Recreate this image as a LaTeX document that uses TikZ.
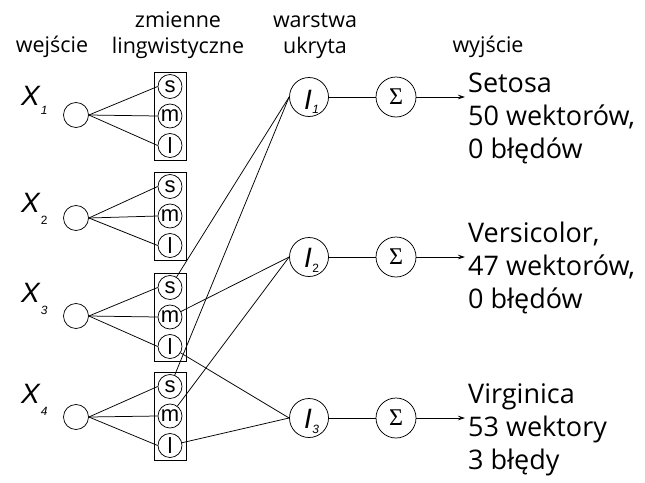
\documentclass[tikz,border=0pt]{standalone}
\usepackage{fontspec}
\setmainfont{Open Sans}
\newfontfamily\arial{Liberation Sans}
\newfontfamily\sigfont{Liberation Serif}
\usetikzlibrary{arrows.meta}
\tikzset{
  wire/.style={line width=0.75pt},
  inp/.style={circle,draw,line width=0.75pt,minimum size=25pt,inner sep=0pt},
  lv/.style={circle,draw,line width=0.75pt,minimum size=24pt,inner sep=0pt,font=\arial\fontsize{22}{22}\selectfont},
  lbox/.style={rectangle,draw,line width=0.75pt,minimum width=31.5pt,minimum height=88pt,inner sep=0pt},
  hid/.style={circle,draw,line width=0.75pt,minimum size=39pt,inner sep=0pt},
  sig/.style={circle,draw,line width=0.75pt,minimum size=40pt,inner sep=0pt,font=\sigfont\fontsize{24}{24}\selectfont},
  varlab/.style={anchor=base west,inner sep=0pt,font=\arial\itshape\fontsize{28}{28}\selectfont},
  head/.style={anchor=north,align=center,inner sep=0pt,font=\fontsize{21.5}{26}\selectfont},
  outtext/.style={anchor=north west,align=left,inner sep=0pt,font=\fontsize{27}{33}\selectfont},
  arr/.style={line width=0.75pt,-{Stealth[length=7pt,width=4.5pt]}}
}
\newcommand{\subsc}[2]{\raisebox{-#1}{\fontsize{12}{12}\selectfont #2}}
\begin{document}
\begin{tikzpicture}[x=1pt,y=-1pt]
\useasboundingbox[fill=white] (0,0) rectangle (645,482);

% headers (strut height = 0.7*26 = 18.2)
\node[head] (h1) at (52,33.8) {\strut wejście};
\node[head] (h2) at (178,8.8) {\strut zmienne\\\strut lingwistyczne};
\node[head] (h3) at (315,8.8) {\strut warstwa\\\strut ukryta};
\node[head] (h4) at (488,33.8) {\strut wyjście};

% input groups
\foreach \i/\c/\xc in {1/116/115,2/216/218,3/317/316,4/416/417}{
  \node[inp] (X\i) at (76,\xc) {};
  \node[lbox] (B\i) at (170.25,\c) {};
  \node[lv] (s\i) at (170,\c-29.5) {s};
  \node[lv] (m\i) at (170,\c) {m};
  \node[lv] (l\i) at (170,\c+29.5) {l};
  \draw[wire] (X\i.east) -- (s\i.west);
  \draw[wire] (X\i.east) -- (m\i.west);
  \draw[wire] (X\i.east) -- (l\i.west);
}

% variable labels
\node[varlab] (XL1) at (21,105) {X\kern1pt\subsc{9pt}{1}};
\node[varlab] (XL2) at (21,212) {X\kern1pt\subsc{12pt}{\upshape 2}};
\node[varlab] (XL3) at (21,302) {X\kern1pt\subsc{12pt}{3}};
\node[varlab] (XL4) at (21,403) {X\kern1pt\subsc{12pt}{4}};

% hidden layer
\node[hid] (I1) at (309,97) {};
\node[hid] (I2) at (309,257) {};
\node[hid] (I3) at (309,418) {};
\node[varlab] (IL1) at (304,109) {I\kern0.5pt\subsc{4pt}{1}};
\node[varlab] (IL2) at (304,267) {I\kern0.5pt\subsc{5pt}{\upshape 2}};
\node[varlab] (IL3) at (304,428) {I\kern0.5pt\subsc{5pt}{3}};

% sums
\node[sig] (S1) at (396,97) {Σ};
\node[sig] (S2) at (396,257) {Σ};
\node[sig] (S3) at (396,418) {Σ};

\coordinate (o1) at (465,97);
\coordinate (o2) at (465,257);
\coordinate (o3) at (465,418);

% connections to hidden layer
\draw[wire] (s3) -- (I1.west);
\draw[wire] (s4) -- (I1.west);
\draw[wire] (m3) -- (I2.west);
\draw[wire] (m4) -- (I2.west);
\draw[wire] (l3) -- (I3.west);
\draw[wire] (l4) -- (I3.west);

\draw[wire] (I1) -- (S1);
\draw[wire] (I2) -- (S2);
\draw[wire] (I3) -- (S3);
\draw[arr] (S1) -- (o1);
\draw[arr] (S2) -- (o2);
\draw[arr] (S3) -- (o3);

% outputs
\node[outtext] (T1) at (468,68.9) {\strut Setosa\\\strut 50 wektorów,\\\strut 0 błędów};
\node[outtext] (T2) at (468,218.9) {\strut Versicolor,\\\strut 47 wektorów,\\\strut 0 błędów};
\node[outtext] (T3) at (468,379.9) {\strut Virginica\\\strut 53 wektory\\\strut 3 błędy};
\end{tikzpicture}
\end{document}
